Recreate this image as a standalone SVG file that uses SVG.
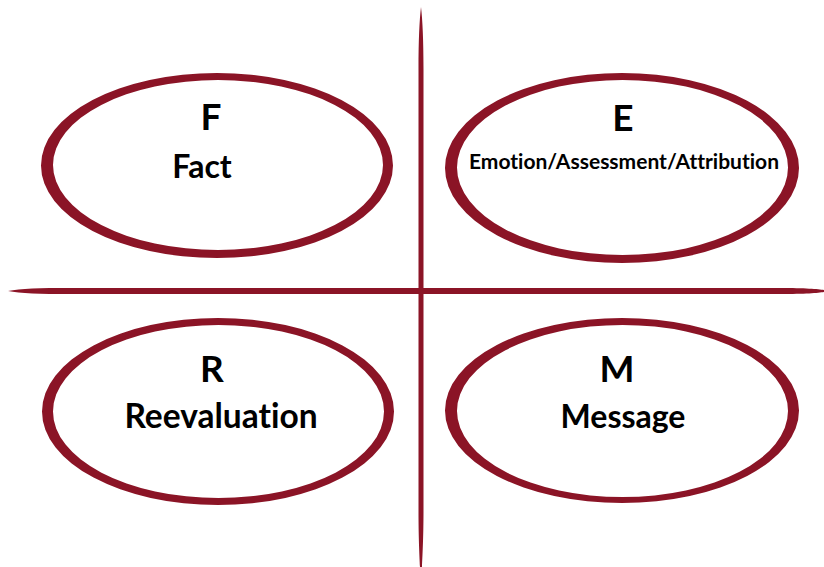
<svg xmlns="http://www.w3.org/2000/svg" width="824" height="567" viewBox="0 0 824 567">
<style>
.ring{fill:#8B1426;fill-rule:evenodd}
.bar{fill:#8B1426}
text{font-family:Lato,"Liberation Sans",sans-serif;font-weight:bold;fill:#000;text-anchor:middle;font-variant-ligatures:none}
.big{font-size:37px}
.lbl{font-size:32px}
.sm{font-size:21px}
</style>
<rect width="824" height="567" fill="#fff"/>
<g id="connectors">
<path class="bar" d="M8,291 C20,288.5 40,288 70,288 L780,288 C805,288 818,289 824,290 L824,292 C818,293 805,294 780,294 L70,294 C40,294 20,293.5 8,291 Z"/>
<path class="bar" d="M421,7 C419.5,20 418.5,40 418.5,70 L418.5,510 C418.5,540 419.5,555 420,567 L422,567 C422.5,555 423.5,540 423.5,510 L423.5,70 C423.5,40 422.5,20 421,7 Z"/>
</g>
<g id="node-F">
<path class="ring" d="M41,165.5 A176,92.5 0 1,0 393,165.5 A176,92.5 0 1,0 41,165.5 Z M53,165 A165,85 0 1,0 383,165 A165,85 0 1,0 53,165 Z"/>
<text class="big" x="211" y="130">F</text>
<text class="lbl" x="202" y="178">Fact</text>
</g>
<g id="node-E">
<path class="ring" d="M445,168 A177,95 0 1,0 799,168 A177,95 0 1,0 445,168 Z M457,167.5 A165.5,87.5 0 1,0 788,167.5 A165.5,87.5 0 1,0 457,167.5 Z"/>
<text class="big" x="623" y="131">E</text>
<text class="sm" x="624" y="169">Emotion/Assessment/Attribution</text>
</g>
<g id="node-R">
<path class="ring" d="M42,411.5 A176,93.5 0 1,0 394,411.5 A176,93.5 0 1,0 42,411.5 Z M53,411.5 A165.5,86.5 0 1,0 384,411.5 A165.5,86.5 0 1,0 53,411.5 Z"/>
<text class="big" x="212" y="382">R</text>
<text class="lbl" x="221" y="428" style="font-size:33.5px">Reevaluation</text>
</g>
<g id="node-M">
<path class="ring" d="M445,410.5 A177,92.5 0 1,0 799,410.5 A177,92.5 0 1,0 445,410.5 Z M457,411 A165.5,86 0 1,0 788,411 A165.5,86 0 1,0 457,411 Z"/>
<text class="big" x="617" y="382">M</text>
<text class="lbl" x="623" y="428">Message</text>
</g>
</svg>
